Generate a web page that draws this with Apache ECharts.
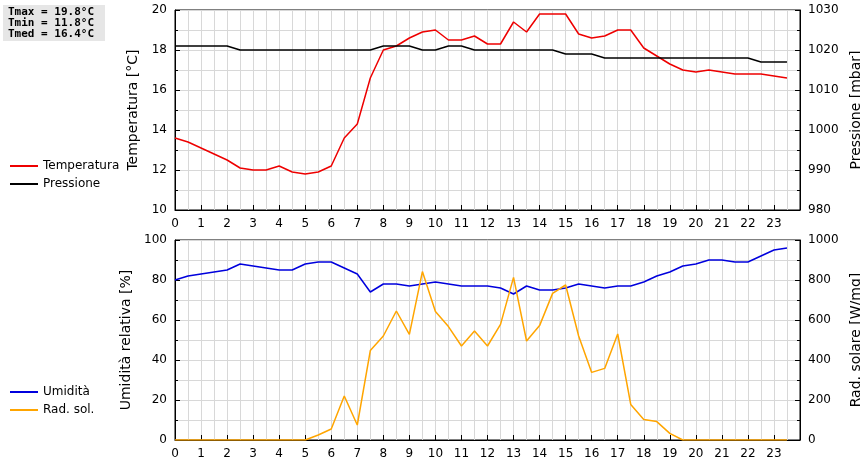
<!DOCTYPE html><html><head><meta charset="utf-8">
<script src="https://cdn.jsdelivr.net/npm/echarts@6/dist/echarts.min.js"></script>
<style>html,body{margin:0;padding:0;background:#fff}#c{width:860px;height:460px}</style></head>
<body><div id="c"></div><script>
const hours=[];for(let i=0;i<48;i++)hours.push(i/2);
const temperatura=[13.6,13.4,13.1,12.8,12.5,12.1,12.0,12.0,12.2,11.9,11.8,11.9,12.2,13.6,14.3,16.6,18.0,18.2,18.6,18.9,19.0,18.5,18.5,18.7,18.3,18.3,19.4,18.9,19.8,19.8,19.8,18.8,18.6,18.7,19.0,19.0,18.1,17.7,17.3,17.0,16.9,17.0,16.9,16.8,16.8,16.8,16.7,16.6];
const pressione=[1021,1021,1021,1021,1021,1020,1020,1020,1020,1020,1020,1020,1020,1020,1020,1020,1021,1021,1021,1020,1020,1021,1021,1020,1020,1020,1020,1020,1020,1020,1019,1019,1019,1018,1018,1018,1018,1018,1018,1018,1018,1018,1018,1018,1018,1017,1017,1017];
const umidita=[80,82,83,84,85,88,87,86,85,85,88,89,89,86,83,74,78,78,77,78,79,78,77,77,77,76,73,77,75,75,76,78,77,76,77,77,79,82,84,87,88,90,90,89,89,92,95,96];
const radsol=[0,0,0,0,0,0,0,0,0,0,0,25,55,220,75,447,520,645,528,842,642,567,470,545,470,578,813,495,572,733,775,520,338,358,530,178,103,92,33,0,0,0,0,0,0,0,0,0];
const stats=["Tmax = 19.8°C","Tmin = 11.8°C","Tmed = 16.4°C"];
const pairs=a=>a.map((v,i)=>[hours[i],v]);
const F="DejaVu Sans";
const xAx=g=>({type:'value',gridIndex:g,min:0,max:24,interval:1,
 axisLine:{lineStyle:{color:'#000'}},axisTick:{inside:true,length:5,lineStyle:{color:'#000'}},
 minorTick:{show:false,splitNumber:2},
 axisLabel:{color:'#000',fontFamily:F,fontSize:12,formatter:v=>v<24?String(v):''},
 splitLine:{show:true,lineStyle:{color:'#d8d8d8'}},
 minorSplitLine:{show:true,lineStyle:{color:'#d8d8d8'}}});
const yAx=(g,min,max,interval,name,pos,minorShow)=>({type:'value',gridIndex:g,min,max,interval,position:pos,
 name,nameLocation:'middle',nameGap:pos==='left'?32:44,nameTextStyle:{color:'#000',fontFamily:F,fontSize:14},
 axisLine:{show:true,lineStyle:{color:'#000'}},axisTick:{show:true,inside:true,length:5,lineStyle:{color:'#000'}},
 minorTick:{show:true,splitNumber:2,length:3,lineStyle:{color:'#000'}},
 axisLabel:{color:'#000',fontFamily:F,fontSize:12,formatter:v=>String(v)},
 splitLine:{show:minorShow,lineStyle:{color:'#d8d8d8'}},
 minorSplitLine:{show:minorShow,lineStyle:{color:'#d8d8d8'}}});
const ch=echarts.init(document.getElementById('c'));
ch.setOption({animation:false,backgroundColor:'#fff',
 grid:[{left:175,top:10,width:625,height:200,show:true,borderColor:'#000',backgroundColor:'#fff',outerBoundsMode:'none',containLabel:false},
       {left:175,top:240,width:625,height:200,show:true,borderColor:'#000',backgroundColor:'#fff',outerBoundsMode:'none',containLabel:false}],
 xAxis:[xAx(0),xAx(1)],
 yAxis:[yAx(0,10,20,2,'Temperatura [°C]','left',true),yAx(0,980,1030,10,'Pressione [mbar]','right',false),
        yAx(1,0,100,20,'Umidità relativa [%]','left',true),yAx(1,0,1000,200,'Rad. solare [W/mq]','right',false)],
 legend:[{data:['Temperatura','Pressione'],orient:'vertical',left:5,top:155,itemWidth:28,itemHeight:2,itemGap:6,icon:'rect',textStyle:{fontFamily:F,fontSize:12,color:'#000'}},
         {data:['Umidità','Rad. sol.'],orient:'vertical',left:5,top:381,itemWidth:28,itemHeight:2,itemGap:6,icon:'rect',textStyle:{fontFamily:F,fontSize:12,color:'#000'}}],
 graphic:[{type:'rect',left:3,top:5,shape:{width:102,height:36},style:{fill:'#e6e6e6'}},
  {type:'text',left:8,top:7,style:{text:stats.join('\n'),font:'bold 11px "DejaVu Sans Mono"',lineHeight:11,fill:'#000'}}],
 series:[
  {name:'Temperatura',type:'line',xAxisIndex:0,yAxisIndex:0,data:pairs(temperatura),showSymbol:false,lineStyle:{color:'#ee0000',width:1.5},itemStyle:{color:'#ee0000'}},
  {name:'Pressione',type:'line',xAxisIndex:0,yAxisIndex:1,data:pairs(pressione),showSymbol:false,lineStyle:{color:'#000',width:1.5},itemStyle:{color:'#000'}},
  {name:'Umidità',type:'line',xAxisIndex:1,yAxisIndex:2,data:pairs(umidita),showSymbol:false,lineStyle:{color:'#0000dd',width:1.5},itemStyle:{color:'#0000dd'}},
  {name:'Rad. sol.',type:'line',xAxisIndex:1,yAxisIndex:3,data:pairs(radsol),showSymbol:false,lineStyle:{color:'#ffa500',width:1.5},itemStyle:{color:'#ffa500'}}
 ]});
</script></body></html>
